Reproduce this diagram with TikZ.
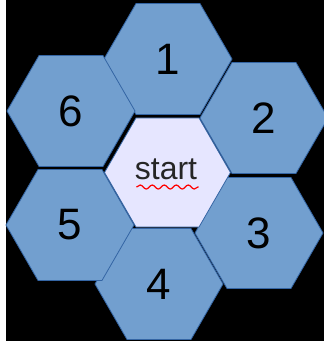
\documentclass[tikz,border=0pt]{standalone}
\usepackage{fontspec}
\setmainfont{Liberation Sans}
\usetikzlibrary{shapes.geometric,decorations.pathmorphing}
\definecolor{cellblue}{HTML}{729FCF}
\definecolor{celledge}{HTML}{3465A4}
\definecolor{startfill}{HTML}{E6E6FF}
\begin{document}
\begin{tikzpicture}[x=1pt, y=-1pt,
  cell/.style={regular polygon, regular polygon sides=6, minimum size=128pt, inner sep=0pt,
    draw=celledge, line width=0.8pt, fill=cellblue, font=\fontsize{44}{48}\selectfont},
  wavy/.style={red, line width=1.2pt, decorate, decoration={snake, amplitude=2pt, segment length=12pt}}]
\fill[white] (0,0) rectangle (6,341);
\fill[black] (6,0) rectangle (324,341);
\useasboundingbox (0,0) rectangle (324,341);
\foreach \n/\x/\y in {1/168/59, 2/264/118, 3/259/233, 4/159/284, 5/70/225, 6/71/111}
  \node[cell] (h\n) at (\x,\y) {\n};
\node[cell, fill=startfill, minimum size=126pt] (start) at (167.5,172.5) {};
\node[font=\fontsize{32}{36}\selectfont, text=black!85, inner sep=0pt] (word) at (166,169) {start};
\draw[wavy] ([xshift=-31pt, yshift=-14.5pt]start.center) -- ([xshift=31pt, yshift=-14.5pt]start.center);
\end{tikzpicture}
\end{document}
